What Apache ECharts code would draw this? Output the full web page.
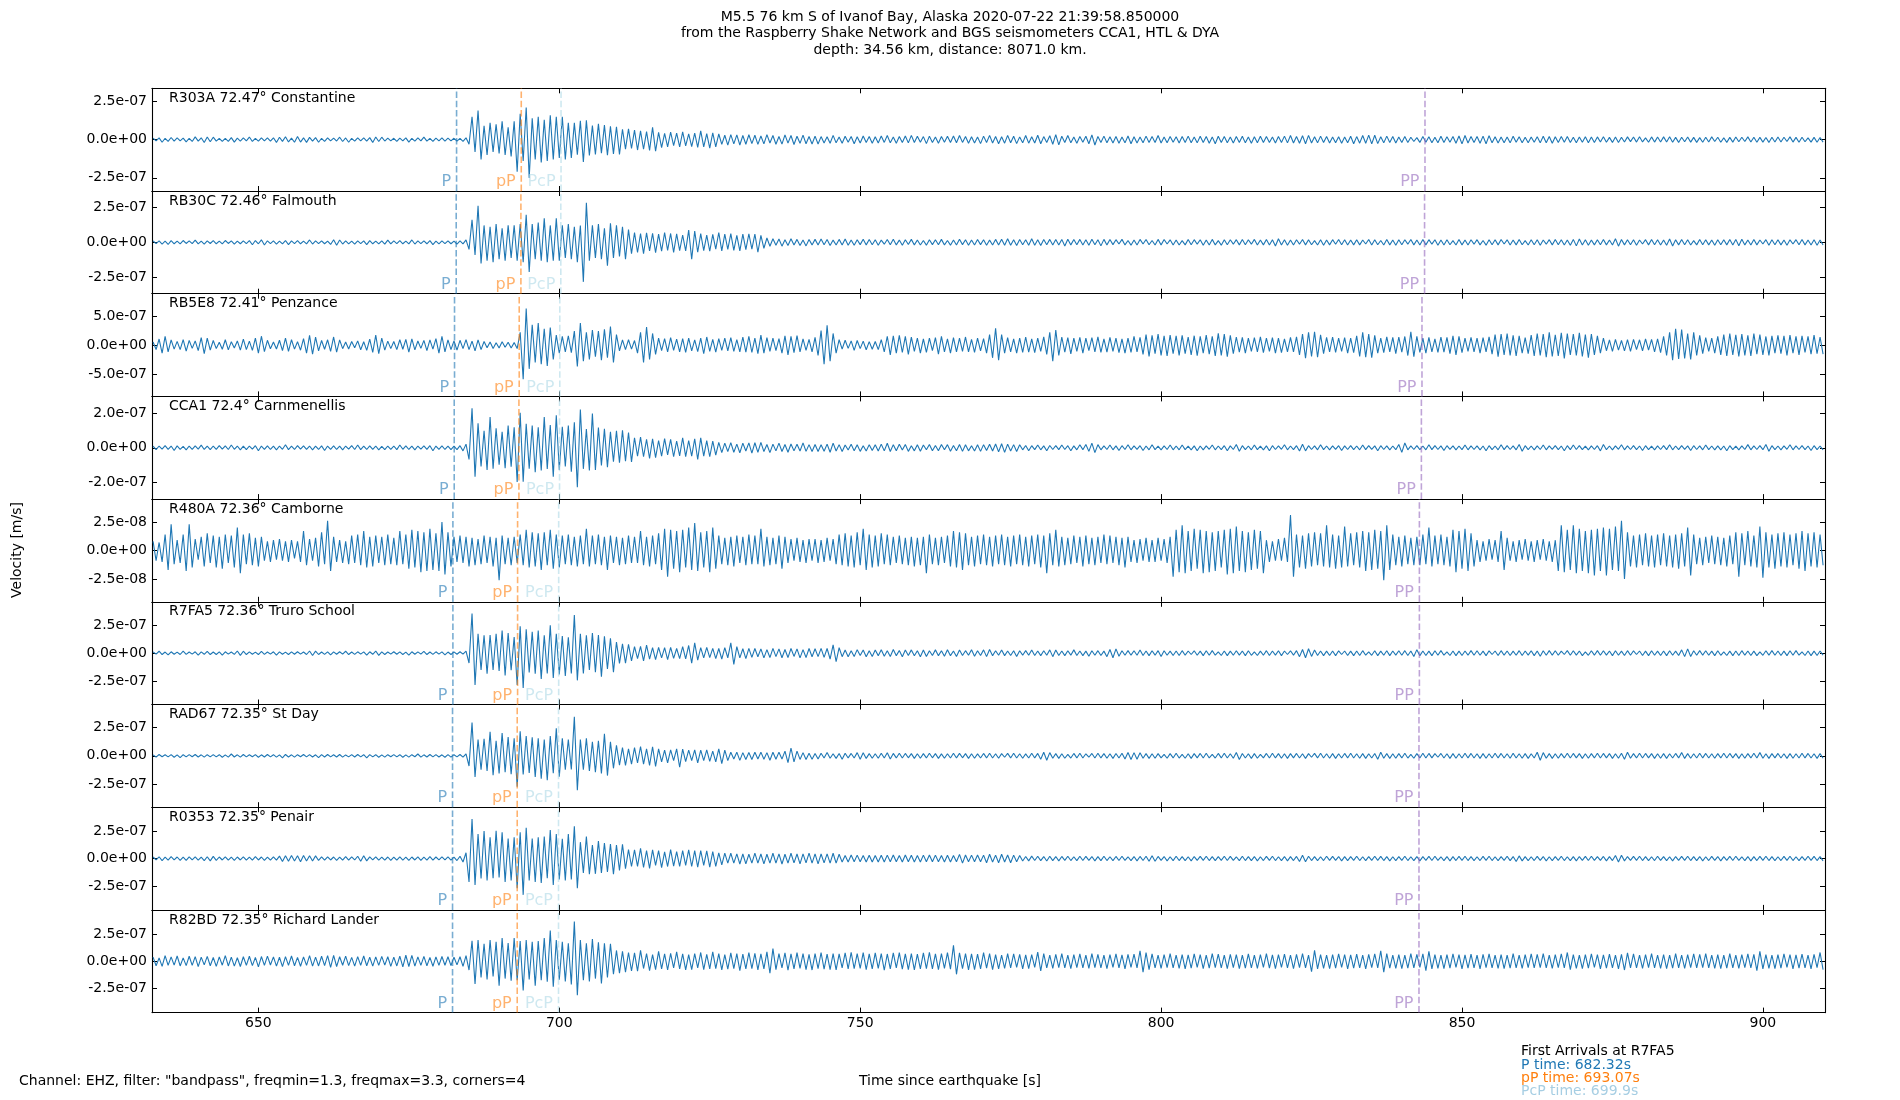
<!DOCTYPE html>
<html><head><meta charset="utf-8">
<script src="https://cdn.jsdelivr.net/npm/echarts@6/dist/echarts.min.js"></script>
<style>html,body{margin:0;padding:0;background:#fff}#c{width:1900px;height:1100px}</style>
</head><body><div id="c"></div>
<script>
// ---------------- data ----------------
const sampleStart = 632.5;   // s, first sample
const sampleStep = 0.5;      // s
const xRange = [632.32, 910.32];
const xTickValues = [650, 700, 750, 800, 850, 900];
const stationLabels = ['R303A 72.47° Constantine','RB30C 72.46° Falmouth','RB5E8 72.41° Penzance','CCA1 72.4° Carnmenellis','R480A 72.36° Camborne','R7FA5 72.36° Truro School','RAD67 72.35° St Day','R0353 72.35° Penair','R82BD 72.35° Richard Lander'];
const pTimes   = [682.93, 682.87, 682.59, 682.54, 682.32, 682.32, 682.26, 682.26, 682.26];
const pPTimes  = [693.68, 693.62, 693.34, 693.29, 693.07, 693.07, 693.01, 693.01, 693.01];
const pcpTimes = [700.29, 700.25, 700.08, 700.04, 699.90, 699.90, 699.87, 699.87, 699.87];
const ppTimes  = [843.85, 843.78, 843.35, 843.25, 842.92, 842.92, 842.85, 842.85, 842.85];
const yLimits  = [336, 364, 885, 297, 45, 455, 445, 464, 480];          // nm/s
const yTickValues = [[-250,0,250],[-250,0,250],[-500,0,500],[-200,0,200],[-25,0,25],[-250,0,250],[-250,0,250],[-250,0,250],[-250,0,250]];
const titleLines = ['M5.5 76 km S of Ivanof Bay, Alaska 2020-07-22 21:39:58.850000','from the Raspberry Shake Network and BGS seismometers CCA1, HTL & DYA','depth: 34.56 km, distance: 8071.0 km.'];
const arrivalLines = ['First Arrivals at R7FA5','P time: 682.32s','pP time: 693.07s','PcP time: 699.9s'];

// velocities in nm/s, one value every 0.5 s
const vR303A = [
10,-8,12,-17,9,-11,14,-9,12,-8,10,-15,9,-12,18,-10,12,-19,17,-14,
16,-10,9,-12,8,-11,13,-16,10,-9,11,-8,17,-12,9,-10,12,-8,11,-9,
12,-18,16,-11,19,-15,10,-17,20,-16,12,-18,15,-10,13,-17,9,-11,12,-8,
10,-9,16,-12,11,-17,9,-10,12,-8,11,-9,13,-18,17,-12,16,-9,10,-8,
9,-11,10,-8,12,-16,9,-10,11,-8,17,-10,9,-12,10,-8,11,-9,10,-8,
9,-10,8,-11,12,-30,150,-80,190,-130,90,-100,110,-80,100,-90,120,-100,80,-110,
120,-210,170,-140,210,-250,140,-130,150,-150,130,-140,160,-130,150,-120,150,-130,110,-120,
110,-98,124,-146,126,-104,92,-97,103,-88,95,-102,88,-93,84,-97,68,-62,71,-58,
62,-68,57,-63,52,-70,80,-76,48,-52,41,-47,50,-39,43,-48,51,-40,38,-46,
42,-50,58,-47,40,-56,44,-48,37,-31,29,-36,33,-28,31,-35,27,-30,32,-26,
29,-31,24,-28,33,-22,27,-30,21,-29,31,-23,27,-32,22,-24,30,-27,21,-28,
23,-28,20,-22,19,-24,28,-21,18,-23,22,-17,21,-27,19,-22,24,-18,20,-23,
19,-22,24,-18,27,-21,17,-23,20,-18,24,-21,28,-19,22,-17,20,-26,23,-19,
18,-23,21,-17,22,-19,24,-20,27,-18,21,-24,19,-22,17,-26,23,-19,28,-22,
21,-27,19,-23,28,-20,22,-26,18,-21,27,-23,19,-22,29,-27,20,-18,26,-30,
33,-34,22,-19,27,-21,18,-23,20,-17,22,-27,31,-35,21,-18,23,-20,19,-22,
20,-23,18,-21,24,-27,19,-22,17,-20,23,-18,21,-19,27,-22,18,-21,20,-17,
19,-22,21,-18,23,-20,17,-21,22,-19,20,-23,18,-27,22,-18,21,-20,17,-22,
20,-18,22,-21,17,-23,19,-20,22,-18,21,-19,17,-22,20,-18,23,-21,27,-22,
21,-24,26,-27,28,-22,19,-21,23,-18,20,-22,17,-21,19,-23,18,-20,22,-27,
20,-23,27,-24,30,-28,29,-26,19,-21,23,-18,20,-22,17,-19,21,-18,16,-12,
13,-18,20,-17,19,-21,16,-20,22,-18,19,-17,21,-23,24,-28,27,-22,20,-18,
21,-24,23,-27,26,-21,19,-22,17,-20,18,-21,22,-17,19,-20,16,-21,18,-17,
19,-21,22,-20,21,-24,19,-18,20,-17,21,-19,16,-20,18,-17,19,-21,17,-18,
18,-16,19,-17,15,-18,17,-19,16,-15,18,-13,17,-16,19,-15,12,-17,18,-16,
17,-15,18,-16,19,-17,15,-18,16,-14,17,-16,15,-18,13,-17,16,-15,18,-12,
16,-17,12,-18,15,-16,17,-14,16,-12,18,-15,16,-17,15,-16,14,-18,16,-15,
17,-15,16,-12,18,-16,15,-17,16,-14,12,-16,15,-17,14,-16];
const vRB30C = [
11,-9,10,-12,8,-15,12,-10,9,-11,13,-8,10,-9,16,-11,9,-12,10,-8,
12,-10,9,-11,13,-8,10,-12,9,-10,11,-9,12,-17,13,-10,18,-19,11,-9,
10,-12,9,-11,13,-16,10,-9,12,-10,9,-11,17,-12,10,-9,11,-10,9,-15,
19,-20,17,-12,10,-11,9,-12,10,-9,11,-16,12,-10,9,-11,10,-12,16,-11,
10,-9,12,-10,9,-11,17,-12,10,-9,11,-10,12,-16,9,-11,10,-9,11,-10,
9,-12,10,-11,18,-50,160,-90,260,-150,120,-130,110,-140,130,-120,100,-130,120,-110,
120,-130,130,-140,195,-210,130,-120,140,-130,170,-140,120,-130,170,-130,120,-110,130,-120,
110,-140,120,-280,280,-130,120,-110,130,-120,100,-166,135,-110,120,-100,110,-120,90,-80,
70,-72,62,-80,68,-60,64,-73,58,-62,70,-57,63,-71,60,-58,52,-61,87,-120,
80,-70,62,-58,51,-63,57,-48,70,-61,58,-50,62,-57,49,-60,58,-52,61,-48,
59,-70,50,-42,31,-28,26,-21,24,-27,19,-22,26,-18,21,-23,17,-25,20,-18,
21,-18,23,-17,20,-22,16,-19,21,-18,24,-20,17,-21,19,-16,22,-18,20,-17,
18,-21,16,-13,20,-17,22,-18,16,-20,19,-15,21,-18,17,-19,13,-20,18,-16,
19,-17,21,-18,13,-20,17,-19,22,-16,18,-21,17,-19,20,-16,18,-20,16,-19,
21,-18,22,-20,26,-21,18,-22,20,-17,19,-21,25,-20,18,-22,20,-17,21,-19,
20,-19,21,-26,22,-18,20,-17,21,-19,18,-20,22,-17,19,-25,21,-18,20,-16,
19,-12,21,-18,13,-20,17,-19,21,-12,20,-17,13,-19,21,-18,20,-12,18,-19,
17,-19,12,-18,20,-17,19,-13,18,-20,17,-19,21,-18,12,-20,19,-17,18,-13,
19,-18,20,-17,18,-13,21,-19,17,-18,20,-19,18,-26,25,-19,18,-20,17,-19,
18,-13,20,-18,19,-17,12,-19,18,-20,17,-18,19,-13,20,-17,18,-19,17,-18,
19,-18,17,-12,20,-19,18,-17,13,-19,20,-18,17,-20,19,-17,18,-13,20,-18,
17,-19,20,-18,19,-13,18,-20,17,-19,18,-17,12,-19,20,-18,17,-19,18,-13,
19,-18,13,-20,18,-17,19,-18,20,-12,18,-19,17,-18,20,-17,12,-19,18,-17,
18,-20,17,-13,19,-18,20,-17,18,-19,17,-20,21,-25,24,-19,18,-20,17,-18,
19,-17,20,-18,17,-19,25,-27,20,-18,19,-17,18,-20,17,-12,19,-18,20,-17,
18,-19,17,-20,24,-26,19,-18,20,-17,18,-19,12,-18,20,-17,19,-18,17,-20,
18,-17,19,-18,20,-19,21,-24,22,-18,17,-19,20,-18,17,-12,19,-20,18,-17,
19,-18,17,-20,18,-12,19,-17,20,-18,17,-19,18,-20,17,-19];
const vRB5E8 = [
52,-78,104,-138,151,-117,88,-71,63,-79,92,-103,81,-58,72,-97,128,-149,121,-86,
78,-61,49,-72,91,-83,58,-52,71,-88,102,-79,68,-91,118,-139,152,-113,82,-63,
51,-68,83,-97,121,-108,92,-71,58,-89,112,-141,168,-159,137,-102,79,-73,91,-108,
139,-121,88,-62,51,-69,61,-48,72,-81,58,-92,101,-128,171,-148,119,-87,68,-61,
62,-79,91,-72,98,-121,108,-82,69,-58,81,-97,88,-71,112,-138,152,-118,89,-78,
71,-88,82,-61,93,-79,68,-101,88,-79,62,-48,52,-61,41,-52,58,-39,49,-52,
42,-61,220,-590,630,-410,350,-300,380,-330,280,-360,300,-250,170,-140,150,-120,160,-130,
240,-370,380,-280,220,-250,260,-200,240,-260,270,-220,320,-300,180,-100,90,-80,92,-71,
78,-140,220,-300,310,-250,200,-160,121,-98,112,-119,128,-92,101,-118,109,-128,118,-99,
91,-112,121,-150,139,-108,98,-121,109,-92,118,-101,128,-109,92,-118,139,-121,152,-128,
121,-148,171,-139,128,-108,119,-98,112,-141,158,-172,149,-131,161,-119,108,-92,98,-118,
132,-180,250,-330,340,-280,200,-140,92,-71,82,-58,72,-91,78,-62,68,-81,59,-72,
61,-79,92,-118,152,-171,158,-139,168,-128,149,-161,138,-109,121,-139,108,-128,118,-98,
128,-158,149,-118,108,-139,128,-119,121,-108,139,-118,98,-128,119,-101,112,-139,180,-220,
290,-260,180,-139,128,-119,108,-141,118,-128,139,-121,108,-131,119,-108,141,-160,220,-280,
260,-180,139,-121,128,-152,119,-108,131,-139,118,-98,128,-119,141,-128,108,-121,131,-109,
118,-131,108,-139,121,-128,152,-119,131,-161,179,-198,168,-149,188,-179,161,-189,171,-149,
158,-179,168,-148,139,-171,161,-182,149,-139,171,-158,149,-188,201,-179,189,-199,168,-148,
139,-121,131,-141,119,-108,128,-119,141,-131,118,-109,128,-139,121,-131,108,-119,131,-118,
141,-171,188,-228,221,-198,229,-211,178,-149,131,-118,139,-128,119,-108,128,-141,118,-129,
158,-198,221,-209,188,-219,168,-139,121,-129,141,-118,131,-149,139,-121,148,-181,229,-199,
149,-128,118,-139,131,-119,108,-128,139,-121,131,-148,158,-171,149,-129,118,-108,131,-119,
121,-139,128,-119,141,-158,179,-199,188,-171,198,-178,168,-189,158,-139,128,-149,171,-188,
199,-178,188,-209,221,-198,178,-189,209,-229,198,-171,188,-178,211,-198,179,-219,188,-168,
158,-139,118,-98,88,-108,99,-88,79,-101,92,-108,98,-79,91,-99,108,-88,99,-118,
108,-131,149,-179,221,-259,281,-239,268,-231,199,-249,218,-179,168,-149,128,-108,121,-139,
149,-168,179,-188,199,-171,178,-198,188,-179,168,-189,198,-158,179,-169,148,-178,158,-139,
168,-149,158,-178,171,-139,149,-168,158,-128,149,-158,171,-149,139,-158];
const vCCA1 = [
9,-11,10,-8,12,-9,10,-16,11,-9,8,-12,10,-9,11,-8,15,-10,9,-11,
10,-9,12,-8,11,-10,16,-9,10,-12,9,-11,10,-8,12,-17,10,-9,11,-10,
9,-12,10,-9,17,-11,9,-10,12,-8,11,-9,10,-12,9,-10,11,-16,10,-9,
11,-10,9,-12,10,-8,12,-10,16,-11,9,-10,11,-9,10,-12,8,-11,10,-9,
10,-11,16,-9,11,-10,9,-12,10,-8,11,-9,12,-17,10,-9,11,-10,9,-11,
9,-11,12,-18,21,-68,228,-168,141,-108,98,-128,178,-121,112,-98,92,-118,128,-109,
118,-198,202,-196,138,-121,128,-142,119,-131,178,-122,131,-168,188,-129,121,-108,128,-139,
148,-228,221,-122,108,-131,198,-128,117,-102,109,-112,92,-81,98,-87,101,-78,88,-82,
58,-49,61,-52,48,-62,51,-57,42,-49,53,-41,48,-52,39,-47,58,-51,42,-48,
52,-68,57,-48,41,-52,38,-42,31,-28,27,-22,30,-26,21,-29,27,-19,28,-31,
29,-27,31,-22,19,-28,21,-18,27,-22,19,-26,22,-18,20,-19,28,-21,18,-22,
19,-22,17,-20,21,-26,27,-19,18,-22,16,-13,20,-18,17,-21,12,-19,18,-16,
17,-19,21,-18,26,-22,18,-17,20,-13,19,-21,12,-18,17,-20,16,-12,19,-17,
13,-17,19,-12,18,-20,13,-17,19,-21,17,-18,12,-19,17,-21,18,-16,20,-19,
22,-24,23,-27,21,-19,18,-22,17,-12,13,-17,12,-11,16,-12,11,-17,13,-10,
12,-11,16,-10,12,-17,11,-12,17,-11,19,-21,27,-28,18,-12,11,-10,16,-12,
11,-16,12,-10,17,-12,11,-9,12,-16,10,-12,17,-11,9,-12,11,-10,16,-12,
10,-12,16,-11,9,-12,11,-17,10,-12,11,-9,16,-12,10,-11,12,-17,11,-10,
19,-20,12,-11,10,-12,16,-11,9,-12,11,-17,12,-10,11,-9,17,-12,10,-11,
12,-19,20,-18,12,-10,11,-12,17,-11,10,-12,11,-9,12,-16,11,-10,12,-11,
10,-12,16,-11,12,-9,11,-17,12,-10,11,-12,10,-11,19,-27,28,-12,11,-10,
12,-11,10,-12,17,-11,12,-10,11,-16,12,-9,11,-12,10,-11,16,-12,11,-10,
11,-12,10,-17,12,-11,10,-12,17,-11,12,-10,11,-12,19,-20,12,-11,10,-12,
11,-10,16,-12,11,-9,12,-11,10,-17,12,-11,16,-10,12,-11,9,-12,11,-10,
12,-18,19,-11,10,-12,11,-9,17,-12,11,-10,12,-11,10,-16,12,-11,9,-12,
11,-10,12,-11,17,-12,10,-11,12,-9,11,-16,12,-10,11,-12,16,-11,10,-12,
11,-12,10,-17,12,-11,9,-12,11,-10,18,-12,11,-10,12,-11,19,-20,12,-11,
10,-12,11,-9,17,-12,11,-10,12,-11,10,-16,12,-11,10,-12];
const vR480A = [
8,-9,7,-10,14,-17,23,-12,9,-11,14,-18,23,-15,10,-8,12,-14,15,-11,
13,-15,12,-16,14,-11,13,-15,20,-20,14,-12,15,-13,11,-14,12,-9,8,-10,
9,-8,10,-9,8,-10,9,-7,8,-10,17,-13,10,-9,11,-14,16,-12,26,-18,
12,-10,9,-11,8,-12,13,-11,14,-13,17,-15,12,-14,13,-11,12,-13,14,-12,
11,-13,17,-12,14,-16,18,-15,17,-19,16,-18,19,-17,15,-18,25,-21,16,-14,
12,-10,13,-11,12,-14,11,-13,10,-12,13,-11,12,-14,11,-26,13,-12,11,-13,
12,-11,14,-13,18,-15,16,-14,15,-17,16,-13,18,-16,14,-15,13,-12,14,-13,
12,-14,13,-12,19,-14,13,-12,14,-13,12,-17,13,-11,12,-13,11,-12,13,-11,
12,-11,17,-13,12,-14,13,-12,15,-17,19,-23,18,-16,17,-19,18,-15,20,-17,
24,-18,16,-15,17,-19,20,-16,13,-12,11,-13,12,-14,13,-11,12,-13,14,-12,
13,-12,19,-14,12,-13,11,-12,13,-16,12,-11,10,-9,11,-10,9,-11,10,-9,
10,-11,9,-10,11,-9,10,-12,14,-13,15,-14,13,-15,16,-13,19,-17,14,-15,
13,-14,15,-12,14,-13,12,-11,13,-12,11,-13,12,-14,11,-13,12,-20,14,-12,
11,-13,12,-11,13,-14,17,-15,16,-17,15,-13,12,-14,13,-12,14,-13,12,-14,
13,-12,14,-13,12,-14,13,-12,14,-13,12,-14,13,-12,14,-15,13,-20,15,-13,
18,-14,12,-13,11,-12,13,-11,12,-14,13,-12,11,-13,12,-11,14,-12,13,-11,
12,-13,11,-15,12,-10,9,-11,10,-9,11,-10,9,-10,11,-9,10,-11,12,-23,
18,-19,22,-20,17,-18,19,-16,18,-20,17,-19,16,-18,17,-15,18,-21,19,-20,
21,-18,17,-19,16,-17,18,-16,17,-20,9,-10,8,-9,10,-9,11,-10,31,-23,
14,-15,13,-16,15,-14,16,-13,15,-14,22,-15,14,-16,13,-15,21,-14,15,-13,
16,-15,17,-18,16,-17,18,-16,17,-26,22,-17,14,-13,12,-14,13,-12,11,-13,
12,-13,14,-12,20,-14,13,-12,14,-13,12,-14,18,-19,17,-16,19,-18,15,-14,
9,-10,8,-9,10,-8,9,-10,17,-17,11,-9,8,-10,9,-8,10,-9,8,-10,
9,-8,10,-9,8,-10,9,-18,22,-19,18,-17,22,-20,19,-18,17,-20,18,-22,
19,-18,20,-22,19,-17,21,-18,26,-25,16,-14,13,-15,14,-13,15,-14,13,-15,
14,-13,15,-14,13,-15,14,-16,15,-14,20,-22,14,-12,11,-13,12,-11,13,-12,
12,-13,11,-14,13,-12,16,-23,15,-13,17,-14,13,-15,21,-24,16,-15,14,-16,
15,-14,16,-15,14,-13,15,-16,17,-18,15,-14,16,-15,14,-13];
const vR7FA5 = [
11,-9,17,-12,10,-16,12,-10,9,-12,18,-11,10,-9,12,-17,11,-10,16,-12,
10,-12,11,-17,12,-9,10,-11,19,-20,17,-12,11,-10,9,-12,16,-11,10,-9,
12,-17,11,-10,9,-12,11,-10,12,-9,10,-12,19,-21,18,-12,10,-11,12,-16,
11,-10,12,-9,17,-12,10,-11,12,-9,11,-18,12,-10,19,-20,11,-12,10,-9,
12,-10,11,-12,9,-17,12,-10,11,-9,16,-12,10,-11,12,-9,11,-16,10,-12,
11,-10,12,-9,18,-88,352,-281,171,-148,158,-182,161,-149,172,-158,201,-198,179,-152,
142,-281,238,-309,212,-171,189,-182,201,-228,158,-179,248,-219,171,-188,152,-201,141,-179,
338,-241,172,-181,158,-149,179,-168,161,-209,149,-141,131,-168,98,-91,82,-88,79,-69,
58,-49,61,-68,71,-52,48,-58,51,-42,49,-58,52,-47,41,-49,58,-51,68,-88,
91,-61,49,-42,51,-39,42,-48,41,-52,48,-41,92,-99,58,-42,39,-48,42,-38,
41,-32,38,-42,31,-39,42,-31,38,-41,32,-39,41,-29,38,-42,31,-39,41,-32,
39,-31,42,-38,41,-52,74,-76,48,-31,28,-32,22,-29,31,-21,28,-32,22,-29,
28,-22,31,-27,21,-29,32,-22,24,-31,28,-21,29,-23,21,-31,27,-29,22,-21,
29,-22,21,-28,31,-22,19,-29,28,-21,22,-19,31,-28,22,-21,29,-31,32,-22,
21,-19,28,-22,19,-21,22,-29,21,-18,22,-19,28,-21,19,-22,21,-19,29,-31,
28,-21,19,-22,21,-18,29,-21,19,-22,18,-28,21,-19,22,-21,18,-31,32,-41,
38,-28,21,-19,22,-18,21,-19,28,-21,19,-22,21,-18,22,-29,21,-19,18,-21,
19,-21,22,-18,19,-12,21,-19,18,-22,21,-19,22,-18,12,-21,19,-22,18,-19,
21,-18,19,-22,21,-19,12,-21,18,-19,22,-21,19,-18,21,-22,19,-12,21,-18,
22,-31,32,-41,39,-29,28,-21,19,-22,18,-21,19,-22,21,-12,19,-21,18,-22,
19,-21,22,-18,12,-19,21,-22,18,-19,21,-22,19,-18,21,-19,22,-21,19,-29,
31,-22,19,-21,18,-22,21,-19,22,-18,12,-21,19,-22,18,-21,19,-18,22,-19,
21,-19,18,-22,21,-12,19,-21,22,-18,19,-21,18,-19,22,-21,19,-18,21,-22,
19,-28,21,-19,22,-18,21,-19,18,-12,22,-19,21,-18,19,-22,12,-19,21,-18,
22,-19,21,-18,19,-22,21,-19,18,-21,22,-19,21,-12,19,-21,18,-22,21,-19,
18,-21,19,-22,21,-19,18,-21,29,-31,38,-29,21,-19,22,-18,21,-19,18,-22,
21,-19,12,-21,18,-22,19,-21,22,-18,19,-21,18,-22,12,-19,21,-18,22,-19,
19,-21,18,-22,21,-19,22,-18,12,-21,19,-22,18,-21,19,-18];
const vRAD67 = [
9,-11,12,-8,10,-9,11,-12,9,-16,10,-9,11,-8,12,-10,9,-11,10,-9,
11,-9,10,-12,8,-11,16,-10,9,-11,12,-9,10,-8,11,-12,9,-10,12,-9,
10,-11,9,-17,12,-10,9,-11,10,-8,12,-9,11,-10,9,-16,11,-10,12,-9,
9,-10,12,-11,8,-9,11,-10,12,-9,10,-17,11,-9,10,-12,9,-11,10,-8,
11,-9,10,-12,9,-11,10,-8,16,-11,9,-10,12,-9,11,-10,9,-12,10,-11,
10,-9,12,-11,18,-88,288,-182,142,-121,148,-131,208,-168,131,-152,198,-141,162,-158,
152,-268,212,-161,172,-149,161,-182,152,-198,142,-211,171,-151,238,-181,152,-121,142,-118,
338,-298,142,-121,152,-131,121,-142,131,-152,192,-171,121,-108,92,-81,72,-82,61,-72,
71,-62,81,-72,61,-82,79,-91,61,-52,49,-61,52,-42,61,-99,58,-51,49,-42,
52,-61,49,-42,51,-48,41,-52,61,-68,49,-41,31,-28,32,-39,28,-31,29,-32,
31,-28,32,-29,28,-38,31,-29,32,-28,41,-58,68,-52,41,-31,28,-32,22,-29,
21,-28,22,-19,29,-21,18,-22,21,-29,22,-18,21,-19,28,-29,27,-22,19,-21,
18,-21,22,-19,27,-28,21,-18,22,-19,21,-17,19,-22,18,-21,19,-18,22,-17,
19,-22,17,-21,18,-19,22,-18,21,-17,19,-22,18,-21,17,-19,21,-18,22,-19,
18,-21,19,-12,21,-18,22,-19,18,-21,17,-19,22,-18,21,-29,31,-38,28,-21,
19,-22,18,-21,12,-19,21,-18,22,-19,18,-12,21,-19,22,-18,19,-21,18,-22,
21,-19,22,-28,29,-31,28,-29,27,-21,19,-22,18,-21,19,-18,12,-21,19,-18,
22,-19,12,-21,18,-22,19,-18,21,-19,22,-18,12,-19,21,-18,22,-19,18,-21,
29,-31,21,-19,18,-22,19,-21,12,-18,21,-19,22,-18,19,-21,18,-22,19,-18,
21,-19,18,-22,19,-12,21,-18,22,-19,18,-21,19,-22,18,-19,21,-18,22,-19,
18,-21,19,-22,18,-19,21,-29,31,-21,19,-22,18,-21,19,-18,22,-19,12,-21,
19,-18,22,-19,21,-18,19,-12,21,-19,18,-22,19,-21,18,-19,22,-18,21,-19,
18,-22,19,-21,18,-19,22,-18,21,-19,18,-21,22,-19,18,-21,19,-22,18,-19,
31,-38,28,-21,19,-22,18,-21,19,-18,22,-19,21,-18,19,-22,18,-21,19,-18,
22,-19,21,-18,19,-22,18,-21,22,-29,31,-21,19,-18,22,-19,21,-18,19,-22,
18,-21,19,-22,18,-19,21,-18,28,-22,19,-21,18,-19,22,-18,21,-19,18,-21,
19,-18,22,-19,21,-18,19,-22,18,-21,19,-18,22,-19,28,-21,18,-22,19,-18,
21,-19,18,-22,19,-21,18,-19,22,-18,21,-19,18,-22,19,-21];
const vR0353 = [
14,-12,16,-18,13,-15,17,-12,14,-16,13,-17,15,-12,16,-14,13,-18,16,-21,
20,-16,14,-13,16,-15,12,-17,14,-13,16,-14,12,-15,17,-13,14,-16,13,-15,
16,-14,22,-27,26,-24,28,-22,25,-29,27,-23,26,-22,24,-17,15,-14,16,-13,
14,-16,13,-15,17,-14,16,-13,21,-24,26,-21,15,-13,16,-14,13,-15,14,-16,
13,-15,16,-14,12,-17,14,-13,15,-16,13,-14,17,-15,14,-12,16,-13,15,-14,
12,-18,21,-31,52,-212,358,-238,221,-181,248,-198,191,-178,252,-171,238,-211,181,-198,
192,-268,238,-328,278,-198,181,-212,192,-221,198,-178,258,-238,221,-188,178,-198,221,-188,
292,-268,148,-131,198,-141,121,-138,158,-131,141,-121,131,-142,121,-108,128,-92,81,-72,
78,-71,92,-81,72,-88,79,-62,71,-82,61,-72,81,-68,62,-71,72,-61,79,-72,
72,-78,71,-62,69,-78,62,-71,51,-58,49,-42,48,-41,42,-49,41,-48,39,-42,
49,-42,41,-48,39,-42,48,-41,42,-49,39,-42,48,-39,41,-48,42,-39,49,-41,
42,-48,41,-39,42,-41,48,-42,39,-32,28,-31,32,-28,31,-29,28,-32,29,-31,
28,-31,29,-32,31,-28,32,-29,28,-31,32,-28,29,-31,28,-32,31,-29,32,-28,
31,-29,28,-32,29,-31,28,-29,38,-41,32,-28,31,-29,32,-28,31,-38,39,-32,
31,-38,39,-31,32,-38,31,-29,28,-22,19,-21,22,-18,21,-19,18,-22,21,-19,
18,-21,19,-17,21,-18,16,-19,21,-18,19,-16,18,-21,17,-19,21,-18,16,-19,
19,-18,21,-17,16,-19,18,-21,19,-18,21,-24,26,-25,19,-17,18,-21,16,-19,
21,-18,17,-19,16,-21,18,-17,19,-16,21,-18,17,-19,18,-16,21,-18,19,-17,
16,-19,21,-18,17,-19,18,-21,16,-18,19,-17,21,-18,16,-19,18,-21,17,-18,
19,-27,29,-28,21,-18,17,-19,16,-18,21,-17,19,-16,18,-21,17,-19,18,-16,
21,-18,16,-19,18,-17,21,-16,19,-18,17,-21,16,-19,18,-17,21,-18,16,-19,
18,-21,17,-16,19,-18,21,-17,16,-19,18,-21,17,-18,19,-16,21,-18,17,-19,
16,-18,19,-17,21,-18,16,-19,18,-17,21,-19,18,-26,24,-21,17,-19,16,-18,
19,-17,18,-21,16,-19,18,-17,21,-18,16,-19,17,-21,18,-16,19,-18,21,-17,
18,-16,19,-21,17,-18,28,-31,29,-21,18,-17,19,-16,21,-18,17,-19,16,-18,
21,-17,18,-19,16,-21,18,-17,19,-16,21,-18,17,-19,18,-21,16,-18,19,-17,
18,-21,17,-16,19,-18,21,-17,16,-19,18,-21,17,-18,19,-16,21,-18,17,-19,
16,-18,19,-17,21,-18,16,-19,18,-17,21,-16,19,-18,17,-21];
const vR82BD = [
38,-42,31,-48,52,-39,41,-36,49,-44,32,-41,47,-38,43,-51,39,-34,46,-42,
35,-48,41,-37,52,-44,38,-46,33,-49,42,-38,47,-41,36,-52,44,-39,48,-35,
41,-46,37,-51,43,-38,49,-42,36,-47,41,-39,52,-45,38,-44,47,-41,52,-58,
55,-49,42,-37,48,-41,36,-45,43,-38,49,-42,37,-46,41,-39,45,-36,42,-48,
39,-44,47,-52,56,-49,54,-46,41,-38,45,-42,36,-47,41,-39,44,-37,42,-41,
38,-34,42,-48,52,-82,192,-212,198,-151,162,-171,198,-142,181,-228,218,-162,171,-182,
218,-178,188,-272,198,-171,182,-228,188,-178,218,-192,288,-238,198,-172,181,-188,168,-218,
372,-318,198,-178,168,-188,208,-162,178,-208,168,-152,162,-121,101,-112,92,-101,82,-91,
78,-92,101,-68,72,-88,61,-79,92,-71,68,-82,74,-61,88,-72,69,-81,62,-78,
71,-62,82,-78,64,-71,88,-69,72,-81,61,-74,79,-68,72,-88,66,-71,82,-69,
74,-81,68,-72,88,-112,118,-79,71,-62,78,-84,69,-72,81,-66,72,-79,64,-82,
71,-68,82,-74,66,-79,72,-81,68,-62,78,-71,84,-69,72,-66,81,-78,69,-72,
79,-66,72,-84,68,-71,78,-62,81,-74,69,-78,72,-81,66,-72,79,-69,84,-71,
68,-78,72,-66,81,-74,148,-122,79,-68,72,-81,69,-78,66,-72,81,-64,72,-78,
62,-71,58,-66,72,-61,68,-57,64,-71,59,-68,62,-57,86,-91,72,-61,58,-66,
64,-59,71,-62,57,-68,63,-59,69,-61,58,-66,72,-59,64,-62,57,-69,61,-58,
68,-62,59,-71,64,-58,66,-62,98,-101,82,-78,69,-61,58,-66,62,-59,71,-62,
58,-66,62,-71,59,-64,68,-57,62,-69,58,-64,71,-59,66,-62,58,-68,64,-59,
61,-68,58,-64,69,-61,57,-66,62,-58,71,-64,59,-68,62,-57,66,-61,58,-69,
64,-59,71,-62,58,-98,101,-72,62,-66,58,-69,61,-64,68,-57,62,-71,59,-64,
66,-62,58,-71,64,-59,68,-62,98,-102,71,-64,58,-66,62,-69,57,-64,71,-62,
64,-58,69,-88,92,-71,62,-66,58,-69,61,-64,68,-57,62,-71,59,-64,66,-62,
58,-71,64,-59,68,-62,58,-66,62,-69,57,-64,71,-62,58,-66,62,-59,68,-61,
64,-59,71,-62,58,-66,62,-59,68,-61,82,-78,62,-66,58,-69,61,-64,68,-57,
62,-71,59,-64,66,-62,58,-71,64,-82,78,-61,68,-62,58,-66,62,-59,71,-62,
58,-66,62,-69,57,-64,71,-62,58,-66,62,-59,68,-61,64,-59,71,-62,58,-66,
62,-69,57,-64,71,-62,58,-66,62,-59,68,-61,64,-88,92,-71,62,-66,58,-69,
61,-64,68,-57,62,-71,59,-64,66,-62,58,-71,64,-59,82,-78];
const traces = [vR303A, vRB30C, vRB5E8, vCCA1, vR480A, vR7FA5, vRAD67, vR0353, vR82BD];

// ---------------- layout / style ----------------
const FONT = '"DejaVu Sans", sans-serif';
const gridTop0 = 88.3, gridH = 102.7, gridLeft = 152, gridRight = 75;
const traceColor = '#1f77b4';
const phases = [
  {name:'P',   times:pTimes,   color:'rgba(31,119,180,0.6)'},
  {name:'pP',  times:pPTimes,  color:'rgba(255,127,14,0.6)'},
  {name:'PcP', times:pcpTimes, color:'rgba(173,216,230,0.6)'},
  {name:'PP',  times:ppTimes,  color:'rgba(148,103,189,0.6)'}
];
function sci(v){
  if (v === 0) return '0.0e+00';
  const x = v * 1e-9;
  let e = Math.floor(Math.log10(Math.abs(x)) + 1e-9);
  let m = (x / Math.pow(10, e)).toFixed(1);
  return m + 'e' + (e < 0 ? '-' : '+') + String(Math.abs(e)).padStart(2, '0');
}
const grids = [], xAxes = [], yAxes = [], series = [], graphics = [];
const lineBlack = {show:true, onZero:false, lineStyle:{color:'#000', width:1.1}};
for (let i = 0; i < 9; i++) {
  const top = gridTop0 + i * gridH;
  grids.push({left:gridLeft, right:gridRight, top:top, height:gridH, containLabel:false});
  const baseX = {gridIndex:i, type:'value', min:xRange[0], max:xRange[1], splitLine:{show:false}, axisLine:lineBlack,
    axisTick:{show:true, inside:true, length:5, customValues:xTickValues, lineStyle:{color:'#000', width:1}}};
  xAxes.push(Object.assign({}, baseX, {position:'bottom',
    axisLabel:{show:i === 8, customValues:xTickValues, margin:4, color:'#000', fontSize:14, fontFamily:FONT}}));
  xAxes.push(Object.assign({}, baseX, {position:'top', axisLabel:{show:false}}));
  const lim = yLimits[i];
  const baseY = {gridIndex:i, type:'value', min:-lim, max:lim, splitLine:{show:false}, axisLine:lineBlack,
    axisTick:{show:true, inside:true, length:5, customValues:yTickValues[i], lineStyle:{color:'#000', width:1}}};
  yAxes.push(Object.assign({}, baseY, {position:'left',
    axisLabel:{show:true, customValues:yTickValues[i], formatter:sci, margin:5, color:'#000', fontSize:14, fontFamily:FONT}}));
  yAxes.push(Object.assign({}, baseY, {position:'right', axisLabel:{show:false}}));

  const tr = traces[i];
  series.push({type:'line', xAxisIndex:2*i, yAxisIndex:2*i, data:tr.map((v, k) => [sampleStart + k * sampleStep, v]),
    showSymbol:false, symbol:'none', sampling:null, lineStyle:{color:traceColor, width:1.1}, z:2, silent:true, animation:false});

  phases.forEach(ph => {
    const t = ph.times[i];
    series.push({type:'line', xAxisIndex:2*i, yAxisIndex:2*i, z:3, silent:true, animation:false,
      symbol:'circle', symbolSize:1, showSymbol:true, itemStyle:{color:'rgba(0,0,0,0)'},
      lineStyle:{color:ph.color, width:1.6, type:[6.5, 2.8]},
      label:{show:false},
      data:[{value:[t, -lim], label:{show:true, formatter:ph.name, position:'left', distance:5, offset:[0,-9],
              color:ph.color, fontSize:16, fontFamily:FONT}},
            {value:[t, lim]}]});
  });

  graphics.push({type:'text', x:169, y:top + 10, silent:true,
    style:{text:stationLabels[i], fill:'#000', font:'14px ' + FONT, align:'left', verticalAlign:'middle', textAlign:'left', textVerticalAlign:'middle'}});
}
titleLines.forEach((s, k) => graphics.push({type:'text', x:950, y:17 + k * 16.6, silent:true,
  style:{text:s, fill:'#000', font:'14px ' + FONT, align:'center', verticalAlign:'middle', textAlign:'center', textVerticalAlign:'middle'}}));
graphics.push({type:'text', x:17, y:550, rotation:Math.PI / 2, silent:true,
  style:{text:'Velocity [m/s]', fill:'#000', font:'14px ' + FONT, align:'center', verticalAlign:'middle', textAlign:'center', textVerticalAlign:'middle'}});
graphics.push({type:'text', x:950, y:1081, silent:true,
  style:{text:'Time since earthquake [s]', fill:'#000', font:'14px ' + FONT, align:'center', verticalAlign:'middle', textAlign:'center', textVerticalAlign:'middle'}});
graphics.push({type:'text', x:19, y:1081, silent:true,
  style:{text:'Channel: EHZ, filter: "bandpass", freqmin=1.3, freqmax=3.3, corners=4', fill:'#000', font:'14px ' + FONT, align:'left', verticalAlign:'middle', textAlign:'left', textVerticalAlign:'middle'}});
const arrivalColors = ['#000000', '#1f77b4', '#ff7f0e', '#a6cee3'];
arrivalLines.forEach((s, k) => graphics.push({type:'text', x:1521, y:1051.7 + k * 13.33, silent:true,
  style:{text:s, fill:arrivalColors[k], font:'14px ' + FONT, align:'left', verticalAlign:'middle', textAlign:'left', textVerticalAlign:'middle'}}));

const chart = echarts.init(document.getElementById('c'), null, {renderer:'canvas'});
chart.setOption({animation:false, backgroundColor:'#fff', grid:grids, xAxis:xAxes, yAxis:yAxes, series:series, graphic:graphics});
</script></body></html>
